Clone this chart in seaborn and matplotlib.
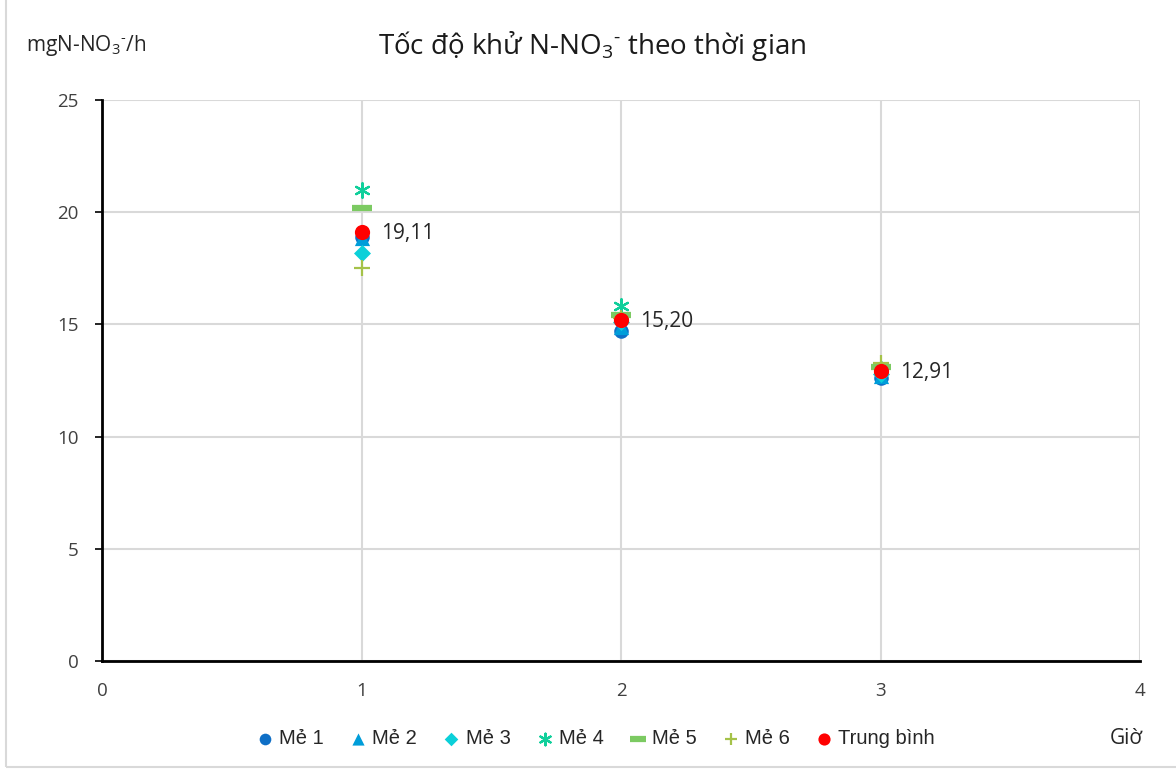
import matplotlib
matplotlib.use("Agg")
import matplotlib.pyplot as plt
import seaborn as sns
import pandas as pd
from matplotlib.patches import Rectangle

# Reduction rate of N-NO3- per batch at each sampling hour
hours = [1, 2, 3]
series_names = ["Mẻ 1", "Mẻ 2", "Mẻ 3", "Mẻ 4", "Mẻ 5", "Mẻ 6", "Trung bình"]
me1 = [18.91, 14.70, 12.60]
me2 = [18.85, 14.90, 12.70]
me3 = [18.20, 15.10, 12.80]
me4 = [21.00, 15.80, 13.00]
me5 = [20.20, 15.40, 13.10]
me6 = [17.50, 15.30, 13.26]
avg = [19.11, 15.20, 12.91]
avg_labels = ["19,11", "15,20", "12,91"]
x_ticks = [0, 1, 2, 3, 4]
y_ticks = [0, 5, 10, 15, 20, 25]

values = [me1, me2, me3, me4, me5, me6, avg]
df = pd.DataFrame(
    [(h, v, name) for name, vals in zip(series_names, values) for h, v in zip(hours, vals)],
    columns=["Giờ", "Tốc độ", "Mẻ"],
)

colors = ["#0F6FC6", "#009DD9", "#0BD0D9", "#10CF9B", "#7CCA62", "#A5C249", "#FF0000"]
markers = ["o", "^", "D", (6, 2, 0), "_", "+", "o"]
sizes = [110, 120, 75, 110, 220, 130, 120]
edge_widths = [0, 0, 0, 1.6, 4.5, 1.6, 0]

sns.set_theme(style="white")
plt.rcParams["font.family"] = ["Open Sans", "DejaVu Sans"]
plt.rcParams["mathtext.fontset"] = "custom"
plt.rcParams["mathtext.rm"] = "Open Sans"
plt.rcParams["mathtext.it"] = "Open Sans"
plt.rcParams["mathtext.default"] = "regular"

fig = plt.figure(figsize=(11.76, 7.71), dpi=100)
ax = fig.add_axes([102 / 1176, 110 / 771, 1038 / 1176, 561 / 771])

for name, col, mk, sz, ew in zip(series_names, colors, markers, sizes, edge_widths):
    sub = df[df["Mẻ"] == name]
    if mk in ("_", "+", (6, 2, 0)):
        sns.scatterplot(data=sub, x="Giờ", y="Tốc độ", ax=ax, color=col, marker=mk,
                        s=sz, linewidth=ew, label=name, zorder=3)
    else:
        sns.scatterplot(data=sub, x="Giờ", y="Tốc độ", ax=ax, color=col, marker=mk,
                        s=sz, linewidth=0, edgecolor=col, label=name, zorder=3)

for h, v, txt in zip(hours, avg, avg_labels):
    ax.annotate(txt, (h, v), xytext=(14, -1), textcoords="offset points",
                ha="left", va="center", fontsize=15, color="#262626")

ax.set_xlim(0, 4)
ax.set_ylim(0, 25)
ax.set_xticks(x_ticks)
ax.set_yticks(y_ticks)
ax.grid(True, color="#D9D9D9", linewidth=1.5)
ax.set_axisbelow(True)
for side in ["top", "right"]:
    ax.spines[side].set_visible(False)
for side in ["left", "bottom"]:
    ax.spines[side].set_color("black")
    ax.spines[side].set_linewidth(2)
ax.tick_params(axis="y", length=5, width=1.2, color="black", labelsize=13.5,
               labelcolor="#404040", pad=12, left=True)
ax.tick_params(axis="x", length=0, labelsize=13.5, labelcolor="#404040", pad=15)
ax.set_xlabel("")
ax.set_ylabel("")

ax.legend(loc="center", bbox_to_anchor=(593 / 1176, 32 / 771), bbox_transform=fig.transFigure,
          ncol=7, frameon=False, handletextpad=0.0, columnspacing=1.0, handlelength=1.4,
          prop={"family": "Liberation Sans", "size": 14.5}, markerscale=0.8)

ion = r"NO$_{3}{}^{\text{-}}$"
fig.text(592 / 1176, 1 - 46 / 771, "Tốc độ khử N-" + ion + " theo thời gian", ha="center",
         va="center", fontsize=20, color="#1A1A1A")
fig.text(26 / 1176, 1 - 46 / 771, "mgN-" + ion + "/h", ha="left", va="center",
         fontsize=15, color="#262626")
fig.text(1126 / 1176, 1 - 738 / 771, "Giờ", ha="center", va="center",
         fontsize=15, color="#262626")

fig.patches.append(Rectangle((6 / 1176, 4 / 771), 1.2, 1.2, transform=fig.transFigure,
                             fill=False, edgecolor="#D9D9D9", linewidth=1.5))

fig.savefig("out.png", dpi=100)
